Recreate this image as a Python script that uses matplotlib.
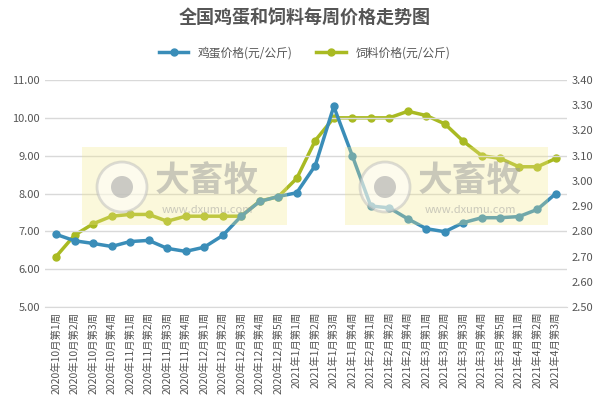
import matplotlib
matplotlib.use("Agg")
import matplotlib.pyplot as plt
from matplotlib.patches import Rectangle, Ellipse

plt.rcParams['font.family'] = ['Noto Sans CJK SC', 'DejaVu Sans']

labels = ["2020年10月第1周","2020年10月第2周","2020年10月第3周","2020年10月第4周",
          "2020年11月第1周","2020年11月第2周","2020年11月第3周","2020年11月第4周",
          "2020年12月第1周","2020年12月第2周","2020年12月第3周","2020年12月第4周","2020年12月第5周",
          "2021年1月第1周","2021年1月第2周","2021年1月第3周","2021年1月第4周",
          "2021年2月第1周","2021年2月第2周","2021年2月第4周",
          "2021年3月第1周","2021年3月第2周","2021年3月第3周","2021年3月第4周","2021年3月第5周",
          "2021年4月第1周","2021年4月第2周","2021年4月第3周"]
egg = [6.92,6.75,6.68,6.60,6.73,6.76,6.55,6.47,6.58,6.89,7.40,7.79,7.92,8.02,8.74,10.30,
       9.00,7.67,7.62,7.33,7.07,6.99,7.23,7.36,7.36,7.39,7.58,8.00]
feed = [2.70,2.785,2.83,2.86,2.867,2.867,2.84,2.86,2.86,2.86,2.86,2.92,2.937,3.01,3.16,3.25,
        3.25,3.25,3.25,3.276,3.259,3.226,3.157,3.10,3.089,3.056,3.056,3.089]

egg_c = "#3A8DB8"
feed_c = "#A9BA22"

fig = plt.figure(figsize=(6.09,4.13), dpi=100)
ax = fig.add_axes([45/609, 1-307/413, 522/609, 227/413])
ax2 = ax.twinx()
x = list(range(len(labels)))
l1, = ax.plot(x, egg, color=egg_c, lw=2.5, marker='o', ms=5, zorder=3, label="鸡蛋价格(元/公斤)")
l2, = ax2.plot(x, feed, color=feed_c, lw=2.5, marker='o', ms=5, zorder=3, label="饲料价格(元/公斤)")
ax.set_zorder(ax2.get_zorder()+1); ax.patch.set_visible(False)

ax.set_ylim(5, 11); ax2.set_ylim(2.5, 3.4)
ax.set_yticks([5,6,7,8,9,10,11]); ax.set_yticklabels([f"{v:.2f}" for v in range(5,12)])
rt = [2.5+0.1*i for i in range(10)]
ax2.set_yticks(rt); ax2.set_yticklabels([f"{v:.2f}" for v in rt])
ax.set_xlim(-0.6, len(labels)-0.4)
ax.set_xticks(x); ax.set_xticklabels(labels, rotation=90, fontsize=7.5, color="#555555")
ax.grid(axis='y', color="#d9d9d9", lw=1)
for a in (ax, ax2):
    for s in a.spines.values(): s.set_visible(False)
    a.tick_params(length=0, labelsize=8, colors="#555555")
ax.tick_params(axis='x', labelsize=7.5)
ax.spines['bottom'].set_visible(True); ax.spines['bottom'].set_color("#d9d9d9")

# watermarks (drawn on top, semi-transparent)
W, H = 609, 413
for (x0, x1) in [(82, 287), (345, 548)]:
    fig.add_artist(Rectangle((x0/W, 1-225/H), (x1-x0)/W, 78/H, transform=fig.transFigure,
                             facecolor="#f3e88a", alpha=0.3, edgecolor="none", zorder=10))
    cx, cy = x0+40, 187
    fig.add_artist(Ellipse((cx/W, 1-cy/H), 50/W, 50/H, transform=fig.transFigure,
                           facecolor="#ffffff", edgecolor="#bbbbbb", lw=2, alpha=0.5, zorder=11))
    fig.add_artist(Ellipse((cx/W, 1-cy/H), 22/W, 22/H, transform=fig.transFigure,
                           facecolor="#aaaaaa", edgecolor="none", alpha=0.6, zorder=11))
    fig.text((x0+125)/W, 1-180/H, "大畜牧", fontsize=25, color="#999999", alpha=0.5,
             ha='center', va='center', fontweight='bold', zorder=11)
    fig.text((x0+125)/W, 1-210/H, "www.dxumu.com", fontsize=8, color="#999999", alpha=0.5,
             ha='center', va='center', zorder=11)

fig.text(0.5, 1-18/H, "全国鸡蛋和饲料每周价格走势图", ha='center', va='center', fontsize=13,
         fontweight='bold', color="#555555")
fig.legend(handles=[l1, l2], loc='center', bbox_to_anchor=(0.5, 1-53/H), ncol=2, frameon=False,
           fontsize=8.5, handlelength=2.5, labelcolor="#555555")
fig.savefig("out.png", dpi=100, facecolor="white")
